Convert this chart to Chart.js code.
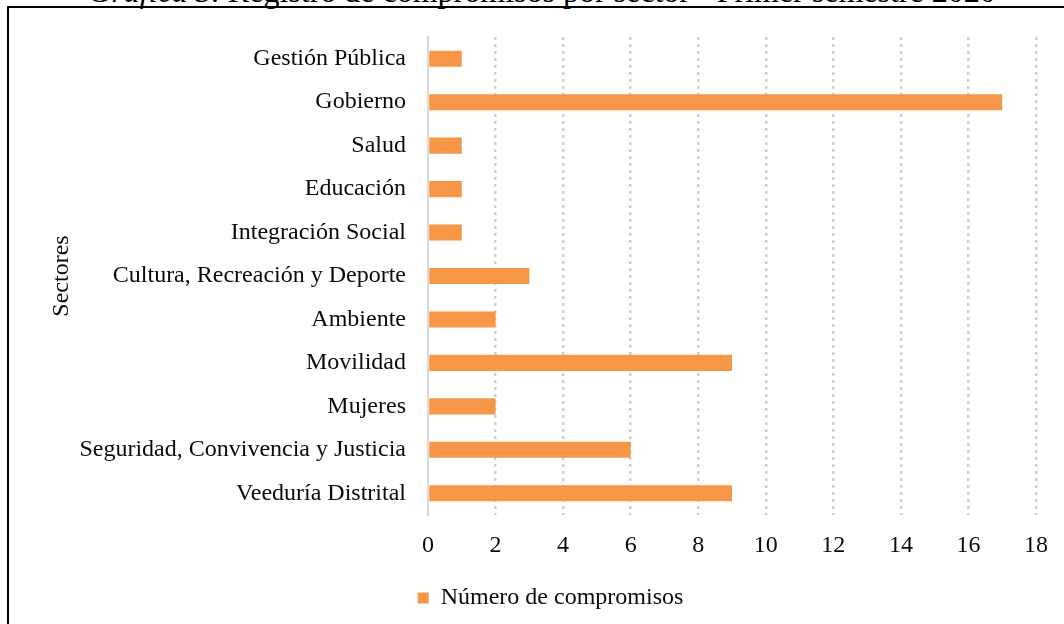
<!DOCTYPE HTML>
<html>
<head>
    <meta charset="utf-8">
    <script src="https://cdn.jsdelivr.net/npm/chart.js"></script>
    <style>
        body {
            margin: 0;
            background: #fff;
            font-family: "Liberation Serif", serif;
        }
        .page {
            position: relative;
            width: 1064px;
            height: 624px;
            overflow: hidden;
        }
        .title {
            position: absolute;
            left: 0;
            width: 1084px;
            top: -25px;
            text-align: center;
            font-size: 32px;
            line-height: 32px;
            color: #000;
            white-space: nowrap;
        }
        .frame {
            position: absolute;
            left: 7px;
            top: 6px;
            width: 1200px;
            height: 800px;
            border: 2px solid #000;
        }
        .chart-box {
            position: absolute;
            left: 0;
            top: 0;
            width: 1064px;
            height: 624px;
        }
    </style>
</head>
<body>
<div class="page">
    <div class="title"><i>Gráfica 3.</i> Registro de compromisos por sector - Primer semestre 2020</div>
    <div class="frame"></div>
    <div class="chart-box"><canvas id="sectorChart"></canvas></div>
</div>

<script>
    const sectores = [
        'Gestión Pública',
        'Gobierno',
        'Salud',
        'Educación',
        'Integración Social',
        'Cultura, Recreación y Deporte',
        'Ambiente',
        'Movilidad',
        'Mujeres',
        'Seguridad, Convivencia y Justicia',
        'Veeduría Distrital'
    ];
    const compromisos = [1, 17, 1, 1, 1, 3, 2, 9, 2, 6, 9];
    const xMin = 0;
    const xMax = 18;
    const xStep = 2;

    const serif = { family: '"Liberation Serif", "Times New Roman", serif', size: 24 };
    const ink = '#0a0a0a';
    const padLeft = 64;

    const ctx = document.getElementById('sectorChart').getContext('2d');
    const chart = new Chart(ctx, {
        type: 'bar',
        data: {
            labels: sectores,
            datasets: [{
                label: 'Número de compromisos',
                data: compromisos,
                backgroundColor: '#f79646',
                borderWidth: 0,
                barPercentage: 0.37,
                categoryPercentage: 1
            }]
        },
        options: {
            indexAxis: 'y',
            responsive: true,
            maintainAspectRatio: false,
            animation: false,
            layout: { padding: { top: 37, left: padLeft, right: 27, bottom: 4 } },
            plugins: {
                tooltip: { enabled: false },
                legend: {
                    position: 'bottom',
                    labels: {
                        boxWidth: 11,
                        boxHeight: 11,
                        padding: 10,
                        color: ink,
                        font: serif
                    }
                }
            },
            scales: {
                x: {
                    min: xMin,
                    max: xMax,
                    ticks: { stepSize: xStep, color: ink, font: serif, padding: 16 },
                    grid: {
                        color: c => (c.tick && c.tick.value === 0) ? 'rgba(0,0,0,0)' : '#cfcfcf',
                        lineWidth: 2.5,
                        drawTicks: false
                    },
                    border: { display: false, dash: [3, 4] },
                    afterFit: s => { s.height = 61; }
                },
                y: {
                    ticks: { color: ink, font: serif, padding: 22 },
                    grid: { display: false, drawTicks: false },
                    border: { display: true, color: '#d9d9d9', width: 2 },
                    title: {
                        display: true,
                        text: 'Sectores',
                        color: ink,
                        font: serif,
                        padding: { top: 62 - padLeft - 14.4, bottom: 0 }
                    },
                    afterFit: s => { s.width = 428 - padLeft; }
                }
            }
        }
    });
</script>
</body>
</html>
